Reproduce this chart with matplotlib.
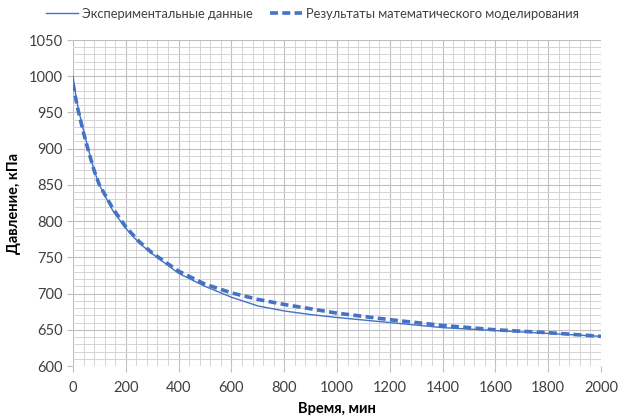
import numpy as np
import matplotlib.pyplot as plt
from matplotlib.ticker import MultipleLocator

# time, min
t = [0, 10, 20, 40, 60, 80, 100, 150, 200, 250, 300, 400, 500, 600, 700,
     800, 900, 1000, 1200, 1400, 1600, 1800, 2000]
# experimental pressure, kPa
p_exp = [1000, 975, 955, 925, 897, 870, 850, 815, 790, 770, 755, 728, 710,
         695, 683, 676, 671, 667, 660, 653, 649, 645, 641]
# model pressure, kPa
p_mod = [990, 970, 952, 922, 895, 870, 850, 818, 792, 772, 756, 731, 713,
         701, 692, 685, 679, 673, 664, 656, 650, 646, 641]

plt.rcParams['font.family'] = ['Lato', 'DejaVu Sans']

fig = plt.figure(figsize=(6.27, 4.15), dpi=100)
ax = fig.add_axes([0.1164, 0.118, 0.8421, 0.7856])

blue = '#4472c4'
ax.plot(t, p_exp, color=blue, lw=1.0, label='Экспериментальные данные')
ax.plot(t, p_mod, color=blue, lw=2.6, ls=(0, (2.2, 1.2)),
        label='Результаты математического моделирования')

ax.set_xlim(0, 2000)
ax.set_ylim(600, 1050)
ax.xaxis.set_major_locator(MultipleLocator(200))
ax.xaxis.set_minor_locator(MultipleLocator(40))
ax.yaxis.set_major_locator(MultipleLocator(50))
ax.yaxis.set_minor_locator(MultipleLocator(10))
ax.grid(which='major', color='#bfbfbf', lw=0.8)
ax.grid(which='minor', color='#d4d4d4', lw=0.7)
ax.set_axisbelow(True)
for s in ax.spines.values():
    s.set_visible(False)
ax.tick_params(which='major', length=4, color='#bfbfbf', labelsize=10.5,
               labelcolor='#404040')
ax.tick_params(which='minor', length=0)
ax.tick_params(axis='x', pad=7)

ax.set_xlabel('Время, мин', fontsize=10.5, fontweight='bold', labelpad=5)
ax.set_ylabel('Давление, кПа', fontsize=10.5, fontweight='bold', labelpad=5)

ax.legend(loc='center', bbox_to_anchor=(0.4536, 1.08), ncol=2, frameon=False,
          fontsize=9.3, handlelength=2.5, handletextpad=0.3, columnspacing=1.3,
          borderaxespad=0, labelcolor='#404040')

fig.savefig('out.png', dpi=100)
